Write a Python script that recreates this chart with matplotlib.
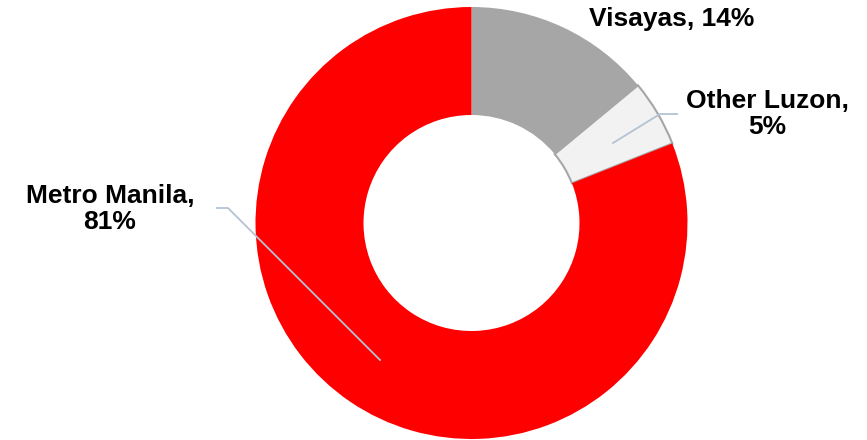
import matplotlib.pyplot as plt

# dane
regions = ['Visayas', 'Other Luzon', 'Metro Manila']
shares = [14, 5, 81]
colors = ['#A6A6A6', '#F2F2F2', '#FF0000']
edges = ['none', '#A6A6A6', 'none']

W, H = 867, 440

plt.rcParams['font.family'] = ['Liberation Sans', 'DejaVu Sans']

fig = plt.figure(figsize=(W / 100, H / 100), dpi=100)
ax = fig.add_axes([0, 0, 1, 1])
ax.set_xlim(0, W)
ax.set_ylim(0, H)
ax.axis('off')


def y(py):
    # pozycja w pikselach od góry -> współrzędna osi
    return H - py


cx, cy, r = 471.5, 223, 216
wedges, _ = ax.pie(shares, colors=colors, startangle=90, counterclock=False,
                   radius=r, center=(cx, y(cy)), frame=True,
                   wedgeprops=dict(width=108, linewidth=1.5))
for w, ec in zip(wedges, edges):
    w.set_edgecolor(ec)
ax.set_xlim(0, W)
ax.set_ylim(0, H)
ax.axis('off')

# etykiety
lab_style = dict(fontsize=19, fontweight='bold', ha='center', va='center',
                 multialignment='center', linespacing=1.15)
ax.text(672, y(19), f'{regions[0]}, {shares[0]}%', **lab_style)
ax.text(767, y(114), f'{regions[1]},\n{shares[1]}%', **lab_style)
ax.text(110, y(209), f'{regions[2]},\n{shares[2]}%', **lab_style)

# linie odniesienia
line_col = '#B4C3D3'
ax.plot([613, 660, 677], [y(143), y(114), y(114)], color=line_col, lw=1.3)
ax.plot([217, 228, 380], [y(208), y(208), y(360)], color=line_col, lw=1.3)

fig.savefig('out.png', dpi=100)
